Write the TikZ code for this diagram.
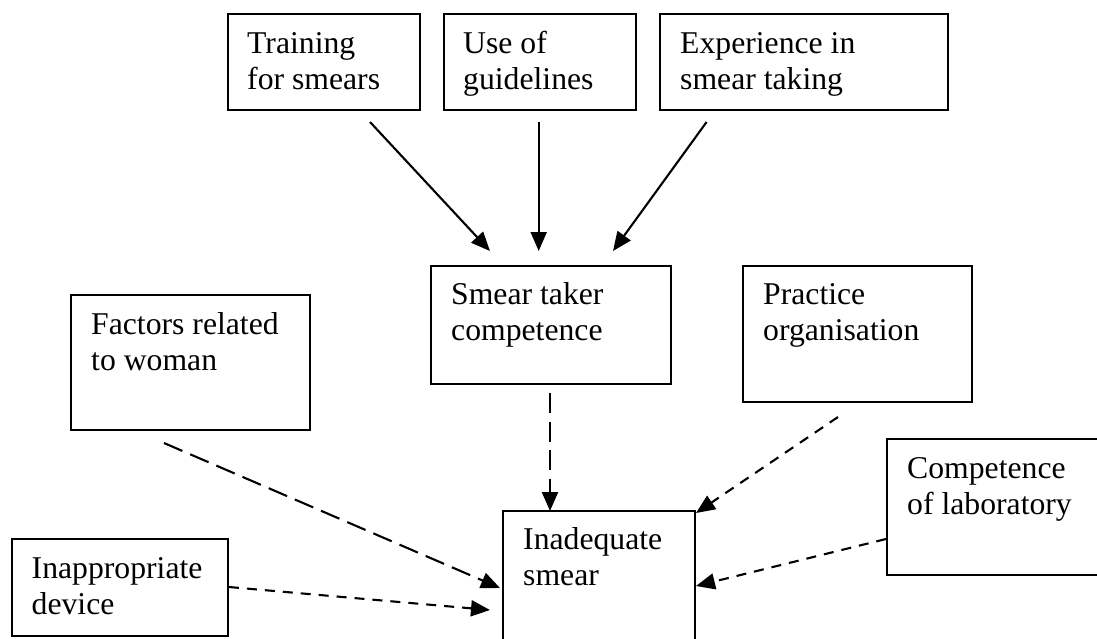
\documentclass[tikz,border=0pt]{standalone}
\usepackage{fontspec}
\setmainfont{Liberation Serif}
\usetikzlibrary{arrows.meta,calc}
\tikzset{
  box/.style={draw=black, line width=2pt, anchor=north west, inner sep=0pt, fill=none},
  txt/.style={anchor=base west, inner sep=0pt},
  arr/.style={line width=2.1pt, -{Triangle[length=19pt,width=16pt]}},
  longdash/.style={arr, dash pattern=on 20pt off 8.5pt},
  shortdash/.style={arr, dash pattern=on 10pt off 8pt},
}
\newcommand{\boxtext}[1]{\parbox[t]{400pt}{\fontsize{31.7}{36.6}\selectfont #1}}
\begin{document}
\begin{tikzpicture}[x=1pt,y=-1pt]
\useasboundingbox (0,0) rectangle (1097,638);
% boxes
\node[box, minimum width=192pt, minimum height=96pt] (train) at (227,13) {};
\node[box, minimum width=192pt, minimum height=96pt] (use) at (443,13) {};
\node[box, minimum width=288pt, minimum height=96pt] (exp) at (659,13) {};
\node[box, minimum width=240pt, minimum height=118pt] (stc) at (430,265) {};
\node[box, minimum width=229pt, minimum height=136pt] (prac) at (742,265) {};
\node[box, minimum width=239pt, minimum height=135pt] (fact) at (70,294) {};
\node[box, minimum width=230pt, minimum height=136pt] (comp) at (886,438) {};
\node[box, minimum width=216.5pt, minimum height=97pt] (inapp) at (10.5,538) {};
\node[box, minimum width=192pt, minimum height=140pt] (inad) at (502,510) {};
% texts
\node[txt] (t-train) at ($(train.north west)+(20,40)$) {\boxtext{Training\\for smears}};
\node[txt] (t-use) at ($(use.north west)+(20,40)$) {\boxtext{Use of\\guidelines}};
\node[txt] (t-exp) at ($(exp.north west)+(21,40)$) {\boxtext{Experience in\\smear taking}};
\node[txt] (t-stc) at ($(stc.north west)+(21,39)$) {\boxtext{Smear taker\\competence}};
\node[txt] (t-prac) at ($(prac.north west)+(21,39)$) {\boxtext{Practice\\organisation}};
\node[txt] (t-fact) at ($(fact.north west)+(21,40)$) {\boxtext{Factors related\\to woman}};
\node[txt] (t-comp) at ($(comp.north west)+(21,40)$) {\boxtext{Competence\\of laboratory}};
\node[txt] (t-inapp) at ($(inapp.north west)+(21,40)$) {\boxtext{Inappropriate\\device}};
\node[txt] (t-inad) at ($(inad.north west)+(21,39)$) {\boxtext{Inadequate\\smear}};
% connector ends
\coordinate (s1) at (370,122);   \coordinate (e1) at (490,251);
\coordinate (s2) at (538.7,122); \coordinate (e2) at (538.7,251);
\coordinate (s3) at (706.6,122); \coordinate (e3) at (613,251);
\coordinate (s4) at (550,393);   \coordinate (e4) at (550,511);
\coordinate (s5) at (164,443);   \coordinate (e5) at (500,588);
\coordinate (s6) at (838,417);   \coordinate (e6) at (696,513);
\coordinate (s7) at (comp.west |- 0,539); \coordinate (e7) at (696,586);
\coordinate (s8) at (inapp.east |- 0,587); \coordinate (e8) at (490,610);
% connectors
\draw[arr] (s1) -- (e1);
\draw[arr] (s2) -- (e2);
\draw[arr] (s3) -- (e3);
\draw[longdash] (s4) -- (e4);
\draw[longdash] (s5) -- (e5);
\draw[shortdash] (s6) -- (e6);
\draw[shortdash] (s7) -- (e7);
\draw[shortdash] (s8) -- (e8);
\end{tikzpicture}
\end{document}
